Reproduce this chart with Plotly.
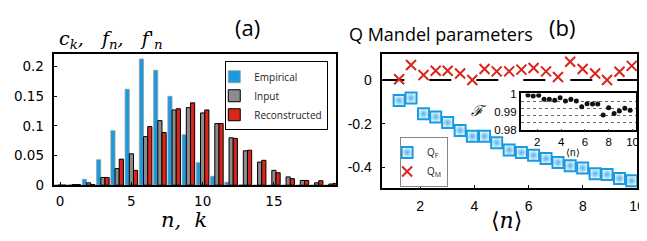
import plotly.graph_objects as go

# ---------------- data ----------------
n_vals = list(range(20))
empirical = [0.0005, 0.001, 0.010, 0.043, 0.092, 0.162, 0.213, 0.194, 0.150, 0.085,
             0.038, 0.015, 0.005, 0.001, 0.0, 0.0, 0.0, 0.0, 0.0, 0.0]
input_f = [0.0, 0.001, 0.004, 0.013, 0.028, 0.053, 0.082, 0.109, 0.127, 0.131,
           0.122, 0.104, 0.080, 0.058, 0.039, 0.025, 0.014, 0.008, 0.004, 0.002]
reconstructed = [0.0, 0.001, 0.001, 0.013, 0.044, 0.025, 0.099, 0.089, 0.129, 0.139,
                 0.127, 0.104, 0.079, 0.059, 0.042, 0.021, 0.011, 0.008, 0.0075, 0.003]

mean_n = [1.22, 1.66, 2.12, 2.57, 3.01, 3.47, 3.92, 4.37, 4.82, 5.28,
          5.73, 6.18, 6.64, 7.08, 7.53, 7.99, 8.45, 8.89, 9.35, 9.80]
q_f = [-0.094, -0.082, -0.155, -0.169, -0.195, -0.231, -0.258, -0.258, -0.287, -0.321,
       -0.332, -0.345, -0.360, -0.378, -0.393, -0.403, -0.429, -0.433, -0.451, -0.462]
q_m = [0.004, 0.069, 0.023, 0.043, 0.043, 0.030, 0.000, 0.051, 0.040, 0.040,
       0.048, 0.055, 0.040, 0.014, 0.084, 0.051, 0.030, 0.000, 0.038, 0.065]
fidelity = [0.9995, 0.9989, 0.9993, 0.9971, 0.9971, 0.9966, 0.9979, 0.9961, 0.9971, 0.9961,
            0.9929, 0.9946, 0.9945, 0.9945, 0.9882, 0.9923, 0.9891, 0.9905, 0.9920, 0.9909]

left_ticks = [0, 0.05, 0.1, 0.15, 0.2]
left_ticktext = ["0", "0.05", "0.1", "0.15", "0.2"]
right_ticks = [-0.4, -0.2, 0]
right_ticktext = ["-0.4", "-0.2", "0"]

BLUE = "#1a9ae0"
GRAY = "#8c8c8c"
RED = "#d8261c"
W, H = 647, 241


def px(x):
    return x / W


def py(y):
    return 1 - y / H


fig = go.Figure()

# ---------------- panel (a) ----------------
fig.add_trace(go.Bar(x=n_vals, y=empirical, name="Empirical", marker=dict(color=BLUE, line=dict(color="#9a9a9a", width=0.8)),
                     xaxis="x", yaxis="y", legend="legend"))
fig.add_trace(go.Bar(x=n_vals, y=input_f, name="Input", marker=dict(color=GRAY, line=dict(color="black", width=1)),
                     xaxis="x", yaxis="y", legend="legend"))
fig.add_trace(go.Bar(x=n_vals, y=reconstructed, name="Reconstructed", marker=dict(color=RED, line=dict(color="black", width=1)),
                     xaxis="x", yaxis="y", legend="legend"))

# ---------------- panel (b) ----------------
fig.add_trace(go.Scatter(x=mean_n, y=q_f, mode="markers", name="Q<sub>F</sub>",
                         marker=dict(symbol="square", size=11, color="#eef8fe",
                                     gradient=dict(type="radial", color="#4fb3ea"),
                                     line=dict(color=BLUE, width=2)),
                         xaxis="x2", yaxis="y2", legend="legend2"))
fig.add_trace(go.Scatter(x=mean_n, y=q_m, mode="markers", name="Q<sub>M</sub>",
                         marker=dict(symbol="x-thin", size=10, color=RED, line=dict(color=RED, width=2)),
                         xaxis="x2", yaxis="y2", legend="legend2"))

# inset
fig.add_trace(go.Scatter(x=mean_n, y=fidelity, mode="markers", showlegend=False,
                         marker=dict(size=5, color="#111111"), xaxis="x3", yaxis="y3"))

left_font = dict(family="DejaVu Sans", size=13.5, color="black")
tick_font = dict(family="Liberation Sans, Arial", size=14, color="black")
axis_common = dict(showline=True, linecolor="black", linewidth=1.5, mirror=True, ticks="inside",
                   ticklen=3, tickcolor="black", showgrid=False, zeroline=False)

fig.update_layout(
    width=W, height=H, margin=dict(l=0, r=0, t=0, b=0),
    paper_bgcolor="white", plot_bgcolor="white",
    barmode="group", bargap=0.12, bargroupgap=0.0,
    xaxis=dict(domain=[px(47), px(332)], range=[-0.4, 19.35], tickvals=[0, 5, 10, 15],
               tickfont=left_font, anchor="y", ticklabelstandoff=3, **axis_common),
    yaxis=dict(domain=[py(182), py(43)], range=[0, 0.222], tickvals=left_ticks,
               ticktext=left_ticktext, tickfont=left_font, anchor="x", ticklabelstandoff=6, **axis_common),
    xaxis2=dict(domain=[px(379), px(637)], range=[0.6, 10], tickvals=[2, 4, 6, 8, 10],
                tickfont=tick_font, anchor="y2", ticklabeloverflow="allow", ticklabelstandoff=4, **axis_common),
    yaxis2=dict(domain=[py(185), py(43)], range=[-0.495, 0.121], tickvals=right_ticks,
                ticktext=right_ticktext, tickfont=tick_font, anchor="x2", ticklabelstandoff=6, **axis_common),
    xaxis3=dict(domain=[px(519), px(636)], range=[0.6, 10.3], tickvals=[2, 4, 6, 8, 10],
                tickfont=dict(family="Liberation Sans, Arial", size=11.5, color="black"), anchor="y3",
                showline=True, linecolor="black", linewidth=1.5, mirror=True, ticks="inside",
                ticklen=2, showgrid=False, zeroline=False),
    yaxis3=dict(domain=[py(124), py(85)], range=[0.9796, 1.0004], tickvals=[0.98, 0.99, 1.0],
                ticktext=["0.98", "0.99", "1"],
                tickfont=dict(family="Liberation Sans, Arial", size=11.5, color="black"), anchor="x3",
                showline=True, linecolor="black", linewidth=1.5, mirror=True, ticks="",
                showgrid=False, zeroline=False,
                minor=dict(tick0=0.98, dtick=0.004, showgrid=True, gridcolor="#666666", griddash="dot", gridwidth=1)),
    legend=dict(x=px(220), y=py(51), xanchor="left", yanchor="top", bgcolor="white",
                bordercolor="black", borderwidth=1, font=dict(family="Open Sans", size=10, color="#222"),
                tracegroupgap=0, itemwidth=30, indentation=-12),
    legend2=dict(x=px(397), y=py(131), xanchor="left", yanchor="top", bgcolor="white",
                 bordercolor="#888888", borderwidth=1, font=dict(family="Open Sans", size=10, color="#222"),
                 tracegroupgap=0, itemwidth=30, indentation=-14),
    showlegend=True,
)

# zero reference line in panel (b)
fig.add_shape(type="line", xref="x2 domain", yref="y2", x0=0, x1=1, y0=0, y1=0,
              line=dict(color="black", width=2, dash="22px,25px"), layer="below")

ann = []
ann.append(dict(x=px(104), y=py(28), text="<i>c<sub>k</sub>,&nbsp;&nbsp;&nbsp;f<sub>n</sub>,&nbsp;&nbsp;&nbsp;f'<sub>n</sub></i>",
                font=dict(family="DejaVu Serif", size=19, color="black"), xanchor="center", yanchor="middle"))
ann.append(dict(x=px(242), y=py(15), text="(a)", font=dict(family="Open Sans", size=22, color="black"),
                xanchor="center", yanchor="middle"))
ann.append(dict(x=px(178), y=py(219), text="<i>n,&nbsp;&nbsp;k</i>", font=dict(family="DejaVu Serif", size=21, color="black"),
                xanchor="center", yanchor="middle"))
ann.append(dict(x=px(343), y=py(22), text="Q Mandel parameters", font=dict(family="Open Sans", size=18, color="black"),
                xanchor="left", yanchor="middle", align="left"))
ann.append(dict(x=px(561), y=py(15), text="(b)", font=dict(family="Open Sans", size=22, color="black"),
                xanchor="center", yanchor="middle"))
ann.append(dict(x=px(505), y=py(219), text="⟨<i>n</i>⟩", font=dict(family="DejaVu Serif", size=22, color="black"),
                xanchor="center", yanchor="middle"))
ann.append(dict(x=px(477), y=py(104), text="<i>ℱ</i>", font=dict(family="DejaVu Serif", size=15, color="black"),
                xanchor="center", yanchor="middle"))
ann.append(dict(x=px(572), y=py(147), text="⟨n⟩", font=dict(family="Liberation Sans", size=10, color="black"),
                xanchor="center", yanchor="middle"))
for a in ann:
    a.update(xref="paper", yref="paper", showarrow=False)
fig.update_layout(annotations=ann)

fig.write_html("out.html")
